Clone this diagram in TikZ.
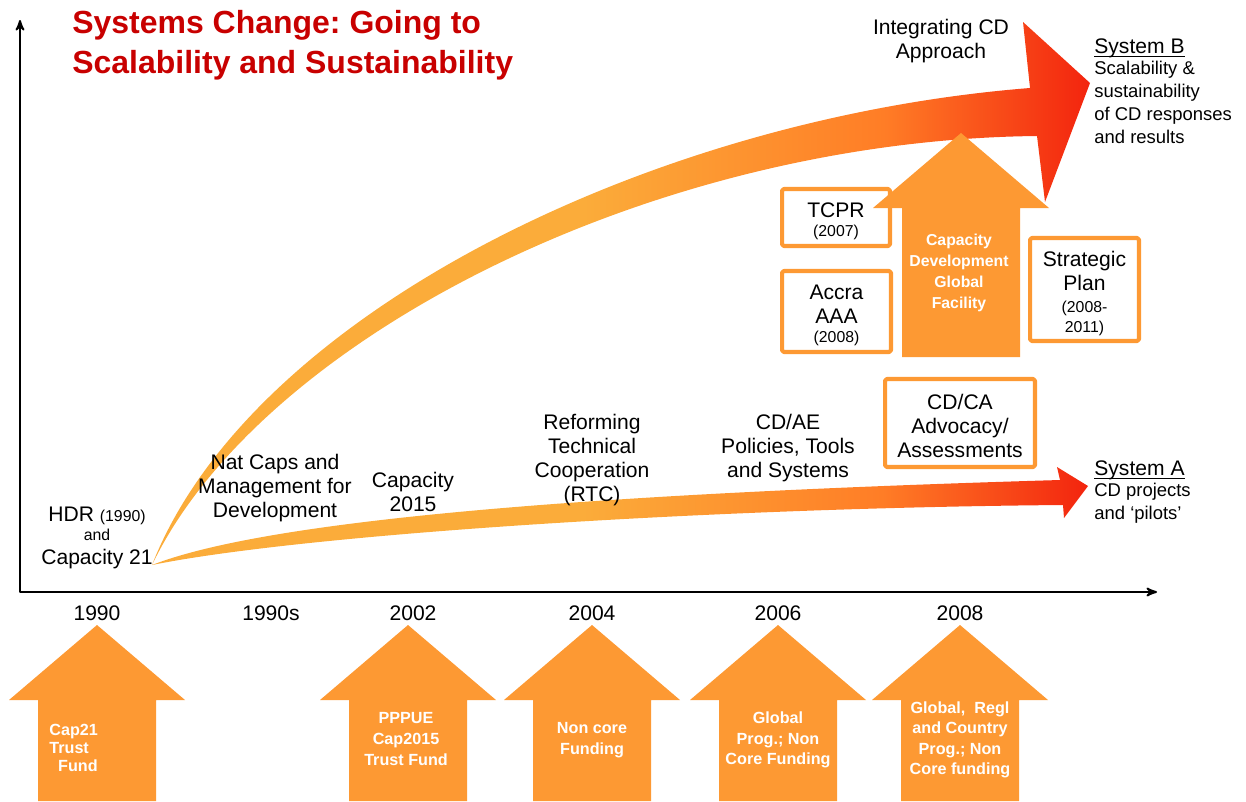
\documentclass[tikz,border=0pt]{standalone}
\usepackage{fontspec}
\setmainfont{Liberation Sans}
\usetikzlibrary{positioning,arrows}
\frenchspacing

\definecolor{cdorange}{RGB}{253,153,51}
\definecolor{titlered}{RGB}{200,0,0}
\definecolor{flowlight}{RGB}{251,172,58}
\definecolor{floworange}{RGB}{255,125,38}
\definecolor{flowred}{RGB}{243,36,14}
\pgfdeclarehorizontalshading{flowshade}{100bp}{color(0bp)=(flowlight); color(25bp)=(flowlight);
  color(48bp)=(flowlight); color(64bp)=(floworange); color(75bp)=(flowred); color(100bp)=(flowred)}

\newcommand\smallyear{\fontsize{9}{10}\selectfont}
% funding arrow: centre x, tip y, foot y
\newcommand\fundarrow[3]{%
  \fill[cdorange] (#1-59,#3) -- (#1-59,#2+75) -- (#1-88,#2+75) -- (#1,#2)
    -- (#1+88,#2+75) -- (#1+59,#2+75) -- (#1+59,#3) -- cycle;}

\begin{document}
\begin{tikzpicture}[x=0.02cm, y=-0.02cm, >=stealth', line join=round,
milestone/.style={align=center, font=\fontsize{12}{13.6}\selectfont, inner sep=0pt},
yearmark/.style={font=\fontsize{12}{13.6}\selectfont, inner sep=0pt},
infobox/.style={draw=cdorange, line width=2.3pt, fill=white, rounded corners=1pt, inner sep=0pt},
boxtext/.style={align=center, font=\fontsize{12}{13.6}\selectfont, inner sep=0pt, yshift=-0.08cm},
fundtext/.style={text=white, align=center, font=\bfseries\fontsize{9.2}{11.7}\selectfont, inner sep=0pt},
systemhead/.style={anchor=west, font=\fontsize{12}{13.6}\selectfont, inner sep=0pt},
systemtext/.style={anchor=north west, align=left, font=\fontsize{10.5}{13}\selectfont, inner sep=0pt}]
    \useasboundingbox (0,0) rectangle (1246,801);

    % axes
    \coordinate (origin) at (20,592);
    \coordinate (ytop) at (20,20);
    \coordinate (xend) at (1157,592);
    \draw[<->, line width=1.1pt] (ytop) -- (origin) -- (xend);

    % the two flows
    \coordinate (start) at (152,565);
    \shade[shading=flowshade] (start) .. controls (250,315) and (650,118) .. (1030,88)
      -- (1023,22) -- (1090,83) -- (1045,202) -- (1037,136)
      .. controls (650,140) and (260,340) .. (start) -- cycle;
    \shade[shading=flowshade] (start) .. controls (280,515) and (650,492) .. (1060,480)
      -- (1057,467) -- (1088,486) -- (1064,518) -- (1063,505)
      .. controls (700,508) and (300,535) .. (start) -- cycle;

    % boxes
    \node[infobox, minimum width=2.16cm, minimum height=1.14cm] (tcpr) at (836,217.5) {};
    \node[boxtext] (tcprtext) at (tcpr) {TCPR\\[-3pt]{\smallyear (2007)}};
    \node[infobox, minimum width=2.18cm, minimum height=1.62cm] (accra) at (836.5,311.5) {};
    \node[boxtext] (accratext) at (accra) {Accra\\AAA\\[-3pt]{\smallyear (2008)}};
    \node[infobox, minimum width=2.18cm, minimum height=2.06cm] (plan) at (1084.5,289.5) {};
    \node[boxtext] (plantext) at (plan)
      {Strategic\\Plan\\[-1pt]{\smallyear (2008-}\\[-2pt]{\smallyear 2011)}};
    \node[infobox, minimum width=3.0cm, minimum height=1.76cm] (cdca) at (960,423) {};
    \node[boxtext, yshift=0.02cm] (cdcatext) at (cdca) {CD/CA\\Advocacy/\\Assessments};

    % funding arrows
    \fundarrow{961}{133}{357}
    \fundarrow{97}{625}{801}
    \fundarrow{408}{625}{801}
    \fundarrow{592}{625}{801}
    \fundarrow{778}{625}{801}
    \fundarrow{960}{625}{801}

    \node[fundtext, font=\bfseries\fontsize{9}{11.8}\selectfont] (cdgf) at (959,273)
      {Capacity\\Development\\Global\\Facility};
    \node[fundtext, align=left, anchor=north west, font=\bfseries\fontsize{9.2}{10.3}\selectfont]
      (fund1990) at (49,724) {Cap21\\Trust\\\hspace{5pt}Fund};
    \node[fundtext] (fund2002) at (406,739) {PPPUE\\Cap2015\\Trust Fund};
    \node[fundtext] (fund2004) at (592,740) {Non core\\Funding};
    \node[fundtext] (fund2006) at (778,740) {Global\\Prog.; Non\\Core Funding};
    \node[fundtext] (fund2008) at (960,740) {Global,\ \ Regl\\and Country\\Prog.; Non\\Core funding};

    % title
    \node[anchor=north west, align=left, text=titlered, inner sep=0pt,
      font=\bfseries\fontsize{18.2}{22.7}\selectfont] (headline) at (72,10)
      {Systems Change: Going to\\Scalability and Sustainability};

    % milestones
    \node[milestone] (hdr) at (97,538) {HDR {\smallyear (1990)}\\[-3pt]{\smallyear and}\\Capacity 21};
    \node[milestone] (natcaps) at (275,488) {Nat Caps and\\Management for\\Development};
    \node[milestone] (cap2015) at (413,492) {Capacity\\2015};
    \node[milestone] (rtc) at (592,460) {Reforming\\Technical\\Cooperation\\(RTC)};
    \node[milestone] (cdae) at (788,448) {CD/AE\\Policies, Tools\\and Systems};
    \node[milestone] (integrating) at (941,41) {Integrating CD\\Approach};

    % systems
    \node[systemhead] (sysB) at (1094,55.5) {\underline{\smash{System B}}};
    \node[systemtext, below=2pt of sysB.south west, anchor=north west] (sysBtext)
      {Scalability \&\\sustainability\\of CD responses\\and results};
    \node[systemhead] (sysA) at (1094,477.5) {\underline{\smash{System A}}};
    \node[systemtext, below=2pt of sysA.south west, anchor=north west] (sysAtext)
      {CD projects\\and ‘pilots’};

    % years
    \node[yearmark] (y1990) at (97,613) {1990};
    \node[yearmark] (y1990s) at (271,613) {1990s};
    \node[yearmark] (y2002) at (413,613) {2002};
    \node[yearmark] (y2004) at (592,613) {2004};
    \node[yearmark] (y2006) at (778,613) {2006};
    \node[yearmark] (y2008) at (960,613) {2008};
\end{tikzpicture}
\end{document}
